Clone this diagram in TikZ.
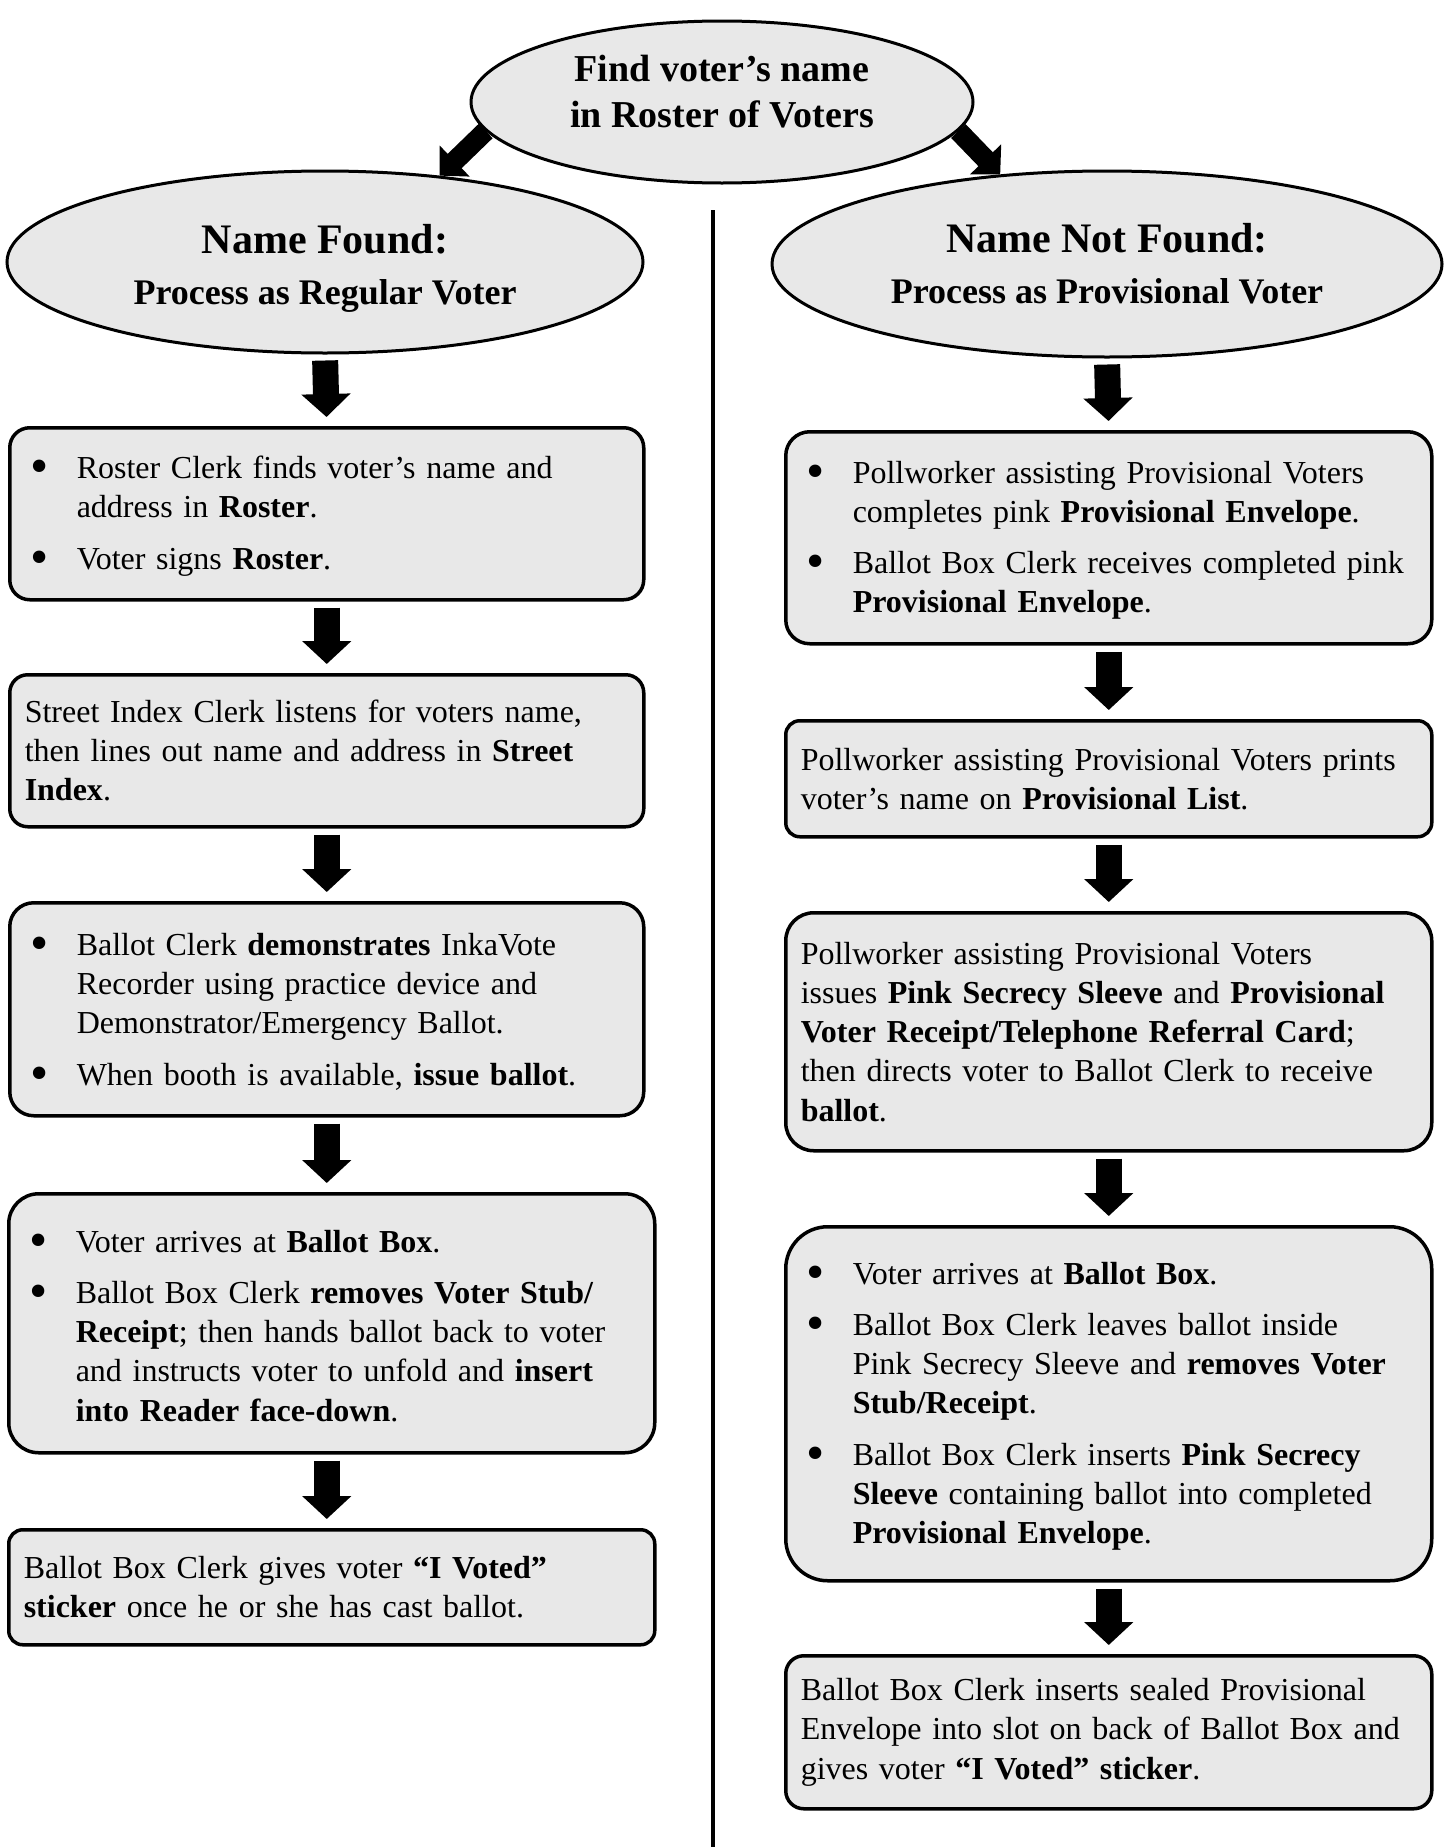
\documentclass[tikz,border=0pt]{standalone}
\usepackage{fontspec}
\setmainfont{Liberation Serif}
\usetikzlibrary{shapes.geometric,arrows.meta}

\definecolor{boxgray}{RGB}{232,232,232}

% bullet paragraph with hanging text
\newcommand{\bmark}{{\fontsize{26}{19.6}\selectfont\raisebox{-2.5pt}{\textbullet}}}
\newcommand{\bitem}[1]{\par\hangindent=26pt\hangafter=1\noindent
  \makebox[26pt][l]{\hspace{3pt}\bmark}{\let\\\newline #1}\par}
\newcommand{\bgap}{\vspace{6pt}}
\newcommand{\bend}{\vspace{6pt}\kern0pt}

\begin{document}
\begin{tikzpicture}[x=0.5pt, y=-0.5pt,
  oval/.style={ellipse, draw, line width=1.5pt, fill=boxgray, inner sep=0pt, align=center},
  stepbox/.style={draw, line width=1.75pt, fill=boxgray, anchor=north west, align=left,
    inner xsep=7.5pt, inner ysep=4pt, font=\fontsize{16}{19.6}\selectfont},
  downarrow/.style={line width=13pt, -{Triangle[width=24pt,length=11.5pt]}, shorten <=3pt, shorten >=4.5pt},
  sidearrow/.style={line width=10pt, -{Triangle[width=21pt,length=10.5pt]}}]

  \useasboundingbox (0,0) rectangle (1450,1847);

  % Divider between the two columns
  \draw[line width=2pt] (713,210) -- (713,1847);

  % Top question
  \node[oval, minimum width=251pt, minimum height=81pt, font=\bfseries\fontsize{19}{23}\selectfont]
    (find) at (722,102) {Find voter’s name\\in Roster of Voters\rule[-10.5pt]{0pt}{0pt}};

  % Two outcomes
  \node[oval, minimum width=318pt, minimum height=91pt, font=\bfseries\fontsize{18}{25.5}\selectfont]
    (found) at (325,262) {{\fontsize{21}{25.5}\selectfont\rule{0pt}{21pt}Name Found:}\\Process as Regular Voter};
  \node[oval, minimum width=335pt, minimum height=93pt, font=\bfseries\fontsize{18}{25.5}\selectfont]
    (notfound) at (1107,264) {{\fontsize{21}{25.5}\selectfont Name Not Found:}\\Process as Provisional Voter};

  \draw[sidearrow] (find.187) -- (found.37);
  \draw[sidearrow] (find.353.7) -- (notfound.140);

  % Regular voter column
  \node[stepbox, text width=302pt, minimum height=86pt, rounded corners=10pt] (roster) at (8,426)
    {\bitem{Roster Clerk finds voter’s name and\\ address in \textbf{Roster}.}\bgap
     \bitem{Voter signs \textbf{Roster}.}\bend};
  \node[stepbox, text width=302pt, minimum height=76pt, rounded corners=9pt] (street) at (8,673)
    {Street Index Clerk listens for voters name,\\ then lines out name and address in \textbf{Street}\\ \textbf{Index}.};
  \node[stepbox, text width=302pt, minimum height=106.5pt, rounded corners=12pt] (demo) at (8,901)
    {\bitem{Ballot Clerk \textbf{demonstrates} InkaVote\\ Recorder using practice device and\\ Demonstrator/Emergency Ballot.}\bgap
     \bitem{When booth is available, \textbf{issue ballot}.}\bend};
  \node[stepbox, text width=308pt, minimum height=129.5pt, rounded corners=15pt] (box) at (7,1192)
    {\bitem{Voter arrives at \textbf{Ballot Box}.}\bgap
     \bitem{Ballot Box Clerk \textbf{removes Voter Stub/}\\ \textbf{Receipt}; then hands ballot back to voter\\ and instructs voter to unfold and \textbf{insert}\\ \textbf{into Reader face-down}.}\bend};
  \node[stepbox, text width=308pt, minimum height=57.5pt, rounded corners=7pt] (sticker) at (7,1528)
    {Ballot Box Clerk gives voter \textbf{“I Voted”}\\ \textbf{sticker} once he or she has cast ballot.};

  \draw[downarrow] (found.south) -- (roster.north);
  \draw[downarrow] (roster) -- (street);
  \draw[downarrow] (street) -- (demo);
  \draw[downarrow] (demo.south) -- (demo.south |- box.north);
  \draw[downarrow] (box.south -| demo.south) -- (demo.south |- sticker.north);

  % Provisional voter column
  \node[stepbox, text width=308pt, minimum height=106pt, rounded corners=12pt] (envelope) at (784,430)
    {\bitem{Pollworker assisting Provisional Voters\\ completes pink \textbf{Provisional Envelope}.}\bgap
     \bitem{Ballot Box Clerk receives completed pink\\ \textbf{Provisional Envelope}.}\bend};
  \node[stepbox, text width=308pt, minimum height=58pt, rounded corners=7pt] (list) at (784,719)
    {Pollworker assisting Provisional Voters prints\\ voter’s name on \textbf{Provisional List}.};
  \node[stepbox, text width=308pt, minimum height=119pt, rounded corners=14pt] (sleeve) at (784,911)
    {Pollworker assisting Provisional Voters\\ issues \textbf{Pink Secrecy Sleeve} and \textbf{Provisional}\\ \textbf{Voter Receipt/Telephone Referral Card};\\ then directs voter to Ballot Clerk to receive\\ \textbf{ballot}.};
  \node[stepbox, text width=308pt, minimum height=177pt, rounded corners=21pt] (pbox) at (784,1225)
    {\bitem{Voter arrives at \textbf{Ballot Box}.}\bgap
     \bitem{Ballot Box Clerk leaves ballot inside\\ Pink Secrecy Sleeve and \textbf{removes Voter}\\ \textbf{Stub/Receipt}.}\bgap
     \bitem{Ballot Box Clerk inserts \textbf{Pink Secrecy}\\ \textbf{Sleeve} containing ballot into completed\\ \textbf{Provisional Envelope}.}\bend};
  \node[stepbox, text width=308pt, minimum height=76.5pt, rounded corners=9pt] (slot) at (784,1654)
    {Ballot Box Clerk inserts sealed Provisional\\ Envelope into slot on back of Ballot Box and\\ gives voter \textbf{“I Voted” sticker}.};

  \draw[downarrow] (notfound.south) -- (envelope.north);
  \draw[downarrow] (envelope) -- (list);
  \draw[downarrow] (list) -- (sleeve);
  \draw[downarrow] (sleeve) -- (pbox);
  \draw[downarrow] (pbox) -- (slot);
\end{tikzpicture}
\end{document}
